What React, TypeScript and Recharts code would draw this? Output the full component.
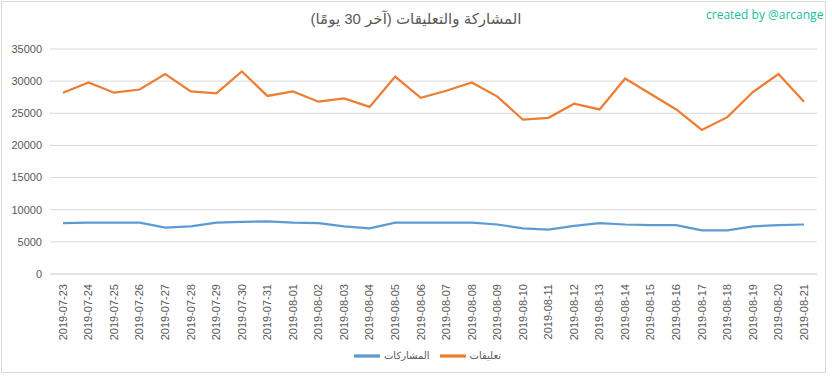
import { LineChart, Line, XAxis, YAxis, CartesianGrid, Legend } from "recharts"

const dates = [
  "2019-07-23", "2019-07-24", "2019-07-25", "2019-07-26", "2019-07-27", "2019-07-28",
  "2019-07-29", "2019-07-30", "2019-07-31", "2019-08-01", "2019-08-02", "2019-08-03",
  "2019-08-04", "2019-08-05", "2019-08-06", "2019-08-07", "2019-08-08", "2019-08-09",
  "2019-08-10", "2019-08-11", "2019-08-12", "2019-08-13", "2019-08-14", "2019-08-15",
  "2019-08-16", "2019-08-17", "2019-08-18", "2019-08-19", "2019-08-20", "2019-08-21",
]

// المشاركات
const posts = [
  7900, 8000, 8000, 8000, 7200, 7400, 8000, 8100, 8200, 8000, 7900, 7400, 7100, 8000, 8000,
  8000, 8000, 7700, 7100, 6900, 7500, 7900, 7700, 7600, 7600, 6800, 6800, 7400, 7600, 7700,
]

// تعليقات
const comments = [
  28200, 29800, 28200, 28700, 31100, 28400, 28100, 31500, 27700, 28400, 26800, 27300, 26000, 30700, 27400,
  28500, 29800, 27600, 24000, 24300, 26500, 25600, 30400, 28000, 25600, 22400, 24400, 28300, 31100, 26800,
]

const yTicks = [0, 5000, 10000, 15000, 20000, 25000, 30000, 35000]

const title = "المشاركة والتعليقات (آخر 30 يومًا)"

const chartData = dates.map((d, i) => ({ date: d, posts: posts[i], comments: comments[i] }))

const font = "'Liberation Sans', 'DejaVu Sans', sans-serif"

export default function App() {
  return (
    <div style={{ position: "relative", width: 832, height: 378, fontFamily: font }}>
      <style>{`body { margin: 0; }`}</style>
      <div
        style={{
          position: "absolute",
          left: 1,
          top: 1,
          width: 825,
          height: 372,
          border: "1px solid #d9d9d9",
          boxSizing: "border-box",
        }}
      />
      <div
        style={{
          position: "absolute",
          left: 0,
          top: 10,
          width: 832,
          textAlign: "center",
          fontSize: 15,
          color: "#595959",
          direction: "rtl",
        }}
      >
        {title}
      </div>
      <div
        style={{
          position: "absolute",
          left: 706,
          top: 6,
          fontSize: 12,
          color: "#1abc9c",
          fontFamily: "'Open Sans', sans-serif",
        }}
      >
        created by @arcange
      </div>
      <LineChart width={832} height={378} data={chartData} margin={{ top: 49, right: 15, left: 0, bottom: 0 }}>
        <CartesianGrid vertical={false} stroke="#d9d9d9" />
        <XAxis
          dataKey="date"
          interval={0}
          padding={{ left: 13, right: 13 }}
          angle={-90}
          textAnchor="end"
          height={74}
          tickLine={false}
          axisLine={{ stroke: "#d9d9d9" }}
          tick={{ fill: "#595959", fontSize: 11, dx: -4, dy: 2 }}
        />
        <YAxis
          width={50}
          domain={[0, 35000]}
          ticks={yTicks}
          axisLine={false}
          tickLine={false}
          tick={{ fill: "#595959", fontSize: 11 }}
        />
        <Legend
          verticalAlign="bottom"
          height={30}
          iconType="plainline"
          iconSize={26}
          wrapperStyle={{ fontSize: 10, color: "#595959", bottom: 5, paddingLeft: 24 }}
          formatter={(value) => <span style={{ color: "#595959" }}>{value}</span>}
        />
        <Line
          type="linear"
          dataKey="posts"
          name="المشاركات"
          stroke="#5b9bd5"
          strokeWidth={2.25}
          dot={false}
          isAnimationActive={false}
        />
        <Line
          type="linear"
          dataKey="comments"
          name="تعليقات"
          stroke="#ed7d31"
          strokeWidth={2.25}
          dot={false}
          isAnimationActive={false}
        />
      </LineChart>
    </div>
  )
}
